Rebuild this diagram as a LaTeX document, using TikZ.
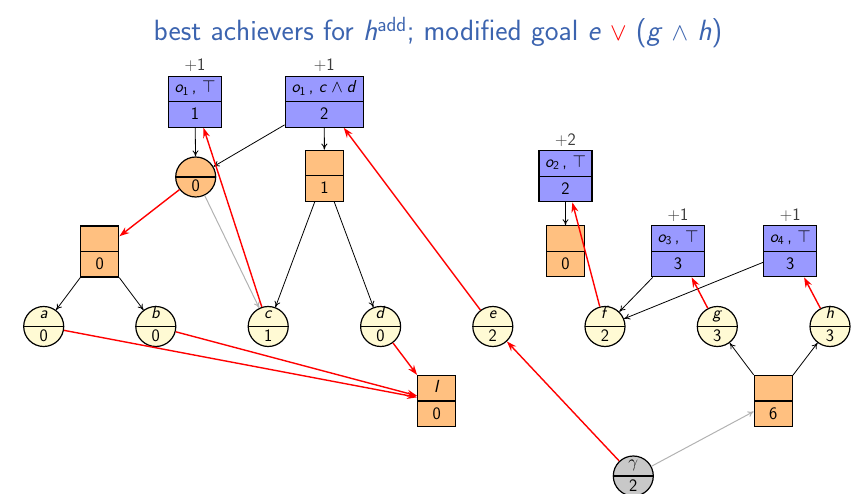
\documentclass[tikz,border=0pt]{standalone}
\usetikzlibrary{arrows.meta}
\DeclareMathAlphabet{\mathsfit}{OT1}{cmss}{m}{sl}
\newcommand\sv[1]{\mathsfit{#1}}
\newcommand\sd[1]{\mathsf{#1}}

\definecolor{titleblue}{RGB}{60,100,175}
\definecolor{opblue}{RGB}{153,153,255}
\definecolor{tabor}{RGB}{255,192,128}
\definecolor{factcream}{RGB}{255,250,212}
\definecolor{goalgray}{RGB}{200,200,200}
\definecolor{costgray}{RGB}{60,60,60}

\tikzset{
  every node/.style={font=\sffamily\fontsize{17.5}{21}\selectfont},
  divided/.style={draw, line width=1.2pt, inner sep=0pt,
    path picture={\draw[line width=1.2pt]
      (path picture bounding box.west) -- (path picture bounding box.east);}},
  opbox/.style={divided, rectangle, fill=opblue, minimum width=53, minimum height=51},
  andbox/.style={divided, rectangle, fill=tabor, minimum width=38, minimum height=51},
  fact/.style={divided, circle, fill=factcream, minimum size=40},
  orfact/.style={divided, circle, fill=tabor, minimum size=40},
  goal/.style={divided, circle, fill=goalgray, minimum size=40},
  cost/.style={anchor=base, text=costgray},
  blk/.style={-{To[length=6pt,width=6pt]}, line width=0.8pt, black},
  gry/.style={-{To[length=6pt,width=6pt]}, line width=1pt, black!30},
  rd/.style={-{Stealth[length=10pt,width=7pt]}, line width=1.4pt, red},
}

% rectangle with two stacked fields
\newcommand\boxnode[6]{%
  \node[#1] (#2) at (#3,#4) {};
  \node[anchor=base] (#2-u) at ([yshift=9pt]#2.center) {#5};
  \node[anchor=base] (#2-l) at ([yshift=-18pt]#2.center) {#6};
}
% circle with two stacked fields
\newcommand\circnode[6]{%
  \node[#1] (#2) at (#3,#4) {};
  \node[anchor=base] (#2-u) at ([yshift=8.5pt]#2.center) {#5};
  \node[anchor=base] (#2-l) at ([yshift=-15pt]#2.center) {#6};
}

\begin{document}
\begin{tikzpicture}[x=1pt,y=-1pt]
\useasboundingbox (0,0) rectangle (859,494);

\node[anchor=base, text=titleblue, font=\sffamily\fontsize{29.3}{35}\selectfont] (title) at (438,41)
  {best achievers for \textit{h}\textsuperscript{add}; modified goal \textit{e} \textcolor{red}{$\vee$} (\textit{g} $\wedge$ \textit{h})};

% operators
\boxnode{opbox}{o1t}{195}{101.7}{$\sv{o}_{\sd{1}}$\,, $\top$}{1}
\boxnode{opbox,minimum width=78}{o1cd}{324.2}{101.7}{$\sv{o}_{\sd{1}}$\,, $\sv{c}\wedge\sv{d}$}{2}
\boxnode{opbox}{o2}{565.5}{176.3}{$\sv{o}_{\sd{2}}$\,, $\top$}{2}
\boxnode{opbox}{o3}{678}{251.3}{$\sv{o}_{\sd{3}}$\,, $\top$}{3}
\boxnode{opbox}{o4}{790.3}{251.3}{$\sv{o}_{\sd{4}}$\,, $\top$}{3}

\node[cost] (o1t-c) at ([yshift=5pt]o1t.north) {$+$1};
\node[cost] (o1cd-c) at ([yshift=5pt]o1cd.north) {$+$1};
\node[cost] (o2-c) at ([yshift=5pt]o2.north) {$+$2};
\node[cost] (o3-c) at ([yshift=5pt]o3.north) {$+$1};
\node[cost] (o4-c) at ([yshift=5pt]o4.north) {$+$1};

% conjunction boxes
\boxnode{andbox}{t1}{324.5}{175.7}{}{1}
\boxnode{andbox}{t0}{99.8}{251.5}{}{0}
\boxnode{andbox}{t2}{565.5}{251.3}{}{0}
\boxnode{andbox}{tI}{436.7}{401}{\textit{I}}{0}
\boxnode{andbox}{t6}{773.3}{401}{}{6}

% disjunction and facts
\circnode{orfact}{c0}{195.7}{177}{}{0}
\circnode{fact}{a}{43.7}{326.5}{\textit{a}}{0}
\circnode{fact}{b}{155.8}{326.5}{\textit{b}}{0}
\circnode{fact}{c}{268.2}{326.5}{\textit{c}}{1}
\circnode{fact}{d}{380.6}{326.5}{\textit{d}}{0}
\circnode{fact}{e}{492.8}{326.5}{\textit{e}}{2}
\circnode{fact}{f}{605}{326.5}{\textit{f}}{2}
\circnode{fact}{g}{717.3}{326.5}{\textit{g}}{3}
\circnode{fact}{h}{830}{326.5}{\textit{h}}{3}
\circnode{goal}{gam}{633.3}{476}{$\gamma$}{2}

% structural edges
\draw[blk] (o1t) -- (c0);
\draw[blk] (o1cd) -- (c0);
\draw[blk] (o1cd) -- (t1);
\draw[blk] (t1) -- (c);
\draw[blk] (t1) -- (d);
\draw[blk] (t0) -- (a);
\draw[blk] (t0) -- (b);
\draw[blk] (o2) -- (t2);
\draw[blk] (o3) -- (f);
\draw[blk] (o4) -- (f);
\draw[blk] (t6) -- (g);
\draw[blk] (t6) -- (h);
\draw[gry] (c0) -- (c);
\draw[gry] (gam) -- (t6);

% best achievers
\draw[rd] (c0) -- (t0);
\draw[rd] (c) -- (o1t);
\draw[rd] (e) -- (o1cd);
\draw[rd] (a) -- (tI);
\draw[rd] (b) -- (tI);
\draw[rd] (d) -- (tI);
\draw[rd] (gam) -- (e);
\draw[rd] (f) -- (o2);
\draw[rd] (g) -- (o3);
\draw[rd] (h) -- (o4);
\end{tikzpicture}
\end{document}
